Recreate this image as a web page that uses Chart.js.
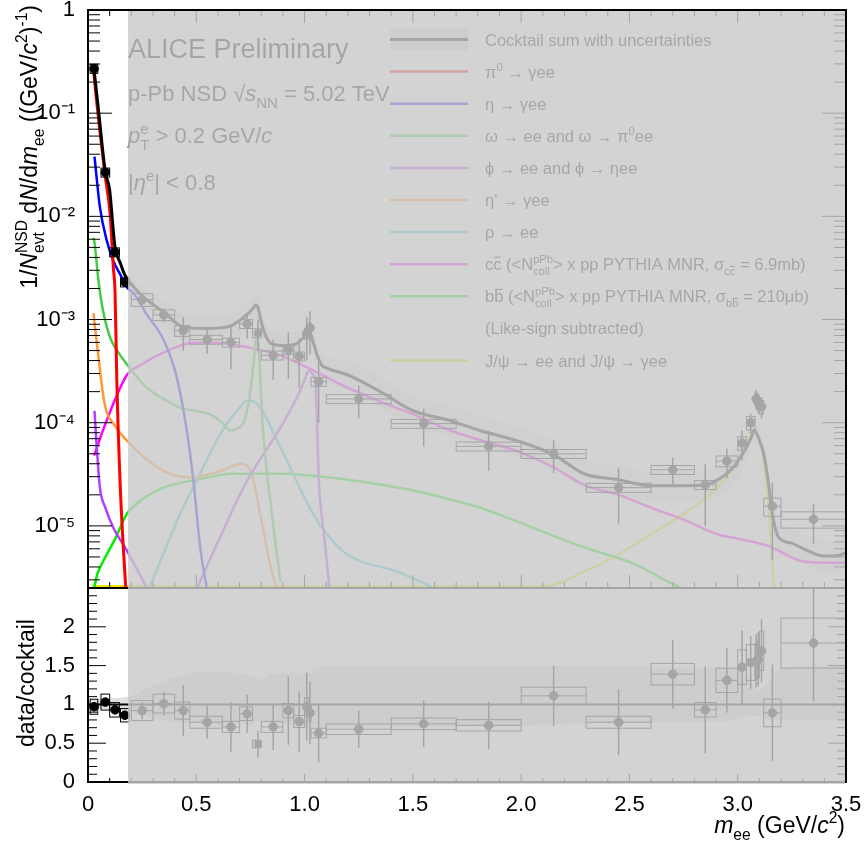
<!DOCTYPE html>
<html>
<head>
<meta charset="utf-8">
<script src="https://cdn.jsdelivr.net/npm/chart.js@4.4.1/dist/chart.umd.min.js"></script>
<style>
  html, body { margin: 0; padding: 0; background: #fff; }
</style>
</head>
<body>
<canvas id="c" width="865" height="841"></canvas>
<script>
// dielectron spectrum p-Pb, data vs cocktail (top) and data/cocktail (bottom)

// --- data points ---
const massX  = [0.028,0.08,0.125,0.17, 0.25,0.35,0.44,0.55,0.66,0.735,0.785,0.855,0.925,0.975, 1.01,1.025,1.065, 1.25,1.55,1.85,2.15,2.45, 2.7,2.85,2.95, 3.02,3.06,3.085,3.095,3.11, 3.16,3.35];
const binLo  = [0.01,0.06,0.10,0.15, 0.20,0.30,0.40,0.47,0.62,0.70,0.76,0.80,0.90,0.95, 1.00,1.02,1.03, 1.10,1.40,1.70,2.00,2.30, 2.60,2.80,2.90, 3.00,3.04,3.08,3.09,3.10, 3.12,3.20];
const binHi  = [0.045,0.10,0.145,0.19, 0.30,0.40,0.47,0.62,0.70,0.76,0.80,0.90,0.95,1.00, 1.02,1.03,1.10, 1.40,1.70,2.00,2.30,2.60, 2.80,2.90,3.00, 3.04,3.08,3.09,3.10,3.12, 3.20,3.50];
const dataY  = [0.27,0.0267,0.0045,0.0023, 1.56e-3,1.11e-3,7.8e-4,6.4e-4,6.0e-4,9.1e-4,7.4e-4,4.5e-4,5.1e-4,4.4e-4, 7.3e-4,8.3e-4,2.5e-4, 1.7e-4,9.8e-5,5.9e-5,5.0e-5,2.35e-5, 3.5e-5,2.5e-5,4.25e-5, 6.35e-5,1.0e-4,1.7e-4,1.58e-4,1.43e-4, 1.55e-5,1.16e-5];
const ratioY = [0.97,1.03,0.93,0.86, 0.92,1.01,0.92,0.77,0.71,0.88,0.49,0.71,0.92,0.78, 0.97,0.89,0.63, 0.68,0.75,0.73,1.11,0.77, 1.39,0.93,1.31, 1.48,1.54,1.56,1.58,1.69, 0.89,1.79];
const statRel = [0.05,0.05,0.05,0.05, 0.12,0.15,0.36,0.27,0.45,0.28,0.35,0.42,0.48,0.5, 0.45,0.45,0.6, 0.35,0.4,0.42,0.35,0.55, 0.32,0.6,0.32, 0.32,0.22,0.22,0.22,0.24, 0.7,0.42];
const sysRel  = [0.1,0.1,0.1,0.1, 0.14,0.12,0.12,0.1,0.1,0.1,0.1,0.1,0.1,0.1, 0.12,0.12,0.1, 0.1,0.1,0.1,0.1,0.1, 0.1,0.1,0.12, 0.15,0.15,0.15,0.15,0.15, 0.2,0.18];
const squarePoint = 10;   // omega bin is drawn with a square marker

// --- cocktail sum ---
const sumX = [0.025,0.03,0.05,0.08,0.1,0.117,0.125,0.15,0.17,0.2,0.25,0.3,0.35,0.425,0.47,0.55,0.61,0.66,0.7,0.73,0.75,0.765,0.775,0.785,0.8,0.82,0.85,0.9,0.95,0.99,1.01,1.02,1.04,1.06,1.08,1.1,1.2,1.35,1.5,1.67,1.81,1.98,2.15,2.29,2.45,2.6,2.75,2.85,2.93,2.98,3.03,3.06,3.076,3.1,3.12,3.14,3.16,3.19,3.25,3.29,3.4,3.47,3.5];
const sumY = [0.29,0.24,0.1,0.027,0.018,0.0072,0.005,0.0035,0.0027,0.0022,0.0017,0.0014,0.00118,0.00087,0.00083,0.00082,0.00083,0.00087,0.00098,0.0011,0.0012,0.0013,0.00138,0.0013,0.00095,0.0007,0.00058,0.00056,0.00057,0.00065,0.00075,0.00078,0.0006,0.00044,0.00036,0.00034,0.00029,0.0002,0.000131,0.000105,8.4e-5,6.7e-5,4.9e-5,3.2e-5,2.8e-5,2.45e-5,2.45e-5,2.5e-5,3.0e-5,3.7e-5,5.3e-5,7.0e-5,8.4e-5,6.8e-5,5e-5,2.8e-5,1.3e-5,7.7e-6,6.8e-6,6.2e-6,5.1e-6,5.2e-6,5.5e-6];
const sumUp = [0.06,0.06,0.07,0.08,0.08,0.09,0.09,0.1,0.1, 0.12,0.18,0.24,0.28,
  0.32,0.32,0.32,0.32,0.32,0.32,0.32,0.32,0.32,0.32,0.32,0.32,0.32,0.32,0.32,0.32,0.32,0.32,0.32,0.32,0.32,0.32,0.32,
  0.38,0.38,0.38,0.38,0.38,0.38,0.38,0.38,0.38,0.38,0.38,0.38,0.38,0.38,0.38,
  0.25,0.25,0.25,0.25,0.25, 0.38,0.38,0.38,0.38,0.38,0.38,0.38];
const sumDn = [0.06,0.06,0.07,0.08,0.08,0.09,0.09,0.1,0.1, 0.1,0.15,0.2,0.24,
  0.28,0.28,0.28,0.28,0.28,0.28,0.28,0.28,0.28,0.28,0.28,0.28,0.28,0.28,0.28,0.28,0.28,0.28,0.28,0.28,0.28,0.28,0.28,
  0.3,0.3,0.3,0.3,0.3,0.3,0.3,0.3,0.3,0.3,0.3,0.3,0.3,0.3,0.3,
  0.2,0.2,0.2,0.2,0.2, 0.3,0.3,0.3,0.3,0.3,0.3,0.3];

// --- cocktail components ---
const piX   = [0.025,0.03,0.056,0.08,0.102,0.117,0.125,0.133,0.148,0.163,0.176];
const piY   = [0.28,0.21,0.064,0.024,0.0107,0.0032,0.0018,2.6e-4,2.7e-5,6.2e-6,2.2e-6];
const etaX  = [0.03,0.055,0.086,0.117,0.15,0.18,0.21,0.27,0.35,0.41,0.456,0.487,0.518,0.55];
const etaY  = [0.038,0.0123,0.0059,0.0037,0.0027,0.00205,0.0018,0.00113,0.00063,0.000275,8.4e-5,2.7e-5,6.2e-6,2.4e-6];
const omgX  = [0.025,0.03,0.048,0.07,0.102,0.14,0.179,0.27,0.35,0.425,0.5,0.564,0.62,0.656,0.69,0.718,0.74,0.756,0.77,0.78,0.79,0.803,0.825,0.849,0.888];
const omgY  = [6.2e-3,5.6e-3,2.4e-3,1.2e-3,6.7e-4,4.8e-4,3.7e-4,2.2e-4,1.7e-4,1.4e-4,1.3e-4,1.2e-4,1.0e-4,8.4e-5,8.8e-5,1.0e-4,1.5e-4,2.6e-4,5e-4,7e-4,5e-4,1.2e-4,3.5e-5,1.3e-5,2.9e-6];
const phiX  = [0.03,0.04,0.055,0.08,0.117,0.179,0.22,0.27,0.38,0.518,0.6,0.733,0.888,0.965,1.0,1.011,1.02,1.035,1.05,1.066,1.08,1.096,1.115];
const phiY  = [1.3e-4,6e-5,2.35e-5,1.5e-5,9.6e-6,5.8e-6,4e-6,2.5e-6,6e-7,2.9e-6,7e-6,2.7e-5,8.9e-5,1.76e-4,2.6e-4,3e-4,3.2e-4,3e-4,2.5e-4,2.7e-5,1.2e-5,6.2e-6,2.4e-6];
const etapX = [0.025,0.045,0.075,0.13,0.18,0.25,0.35,0.47,0.61,0.71,0.756,0.795,0.84,0.875];
const etapY = [1.15e-3,5e-4,1.6e-4,9e-5,6.7e-5,4.8e-5,3.4e-5,2.95e-5,3.4e-5,4e-5,3.2e-5,1.3e-5,4.3e-6,2.3e-6];
const rhoX  = [0.28,0.35,0.425,0.5,0.61,0.7,0.741,0.795,0.888,1.04,1.1,1.196,1.427,1.62];
const rhoY  = [2.4e-6,5.5e-6,1.3e-5,2.7e-5,7.7e-5,1.4e-4,1.66e-4,1.4e-4,5.8e-5,1.3e-5,8.5e-6,5.3e-6,3.6e-6,2.4e-6];
const ccX   = [0.028,0.05,0.074,0.136,0.18,0.25,0.35,0.47,0.58,0.733,0.888,1.042,1.196,1.35,1.504,1.674,1.81,1.982,2.15,2.29,2.45,2.6,2.75,2.906,3.0,3.14,3.29,3.4,3.5];
const ccY   = [4.8e-5,6.5e-5,9e-5,1.9e-4,2.9e-4,3.7e-4,4.8e-4,5.9e-4,6e-4,5.4e-4,4.5e-4,3.2e-4,2.2e-4,1.6e-4,1.2e-4,8.4e-5,6.8e-5,5.3e-5,3.7e-5,2.5e-5,2e-5,1.5e-5,1.15e-5,8.3e-6,7.5e-6,6.4e-6,4.6e-6,4.4e-6,4.4e-6];
const bbX   = [0.025,0.043,0.074,0.128,0.179,0.25,0.35,0.5,0.67,0.888,1.196,1.504,1.674,1.812,1.982,2.29,2.52,2.675,2.8];
const bbY   = [2.3e-6,3.4e-6,4.7e-6,7.7e-6,1.3e-5,1.8e-5,2.35e-5,2.8e-5,3.2e-5,3.2e-5,2.8e-5,2.2e-5,1.8e-5,1.5e-5,1.1e-5,6.2e-6,4.3e-6,2.9e-6,2.2e-6];
const jpsiX = [0.02,2.105,2.29,2.45,2.6,2.75,2.906,3.0,3.045,3.076,3.095,3.115,3.145,3.16,3.17];
const jpsiY = [2.6e-6,2.6e-6,3.6e-6,5.3e-6,8.3e-6,1.3e-5,2.35e-5,4.3e-5,6.6e-5,8.2e-5,7e-5,5e-5,1.3e-5,4.3e-6,2.3e-6];

// --- ratio panel band ---
const rbX  = [0.0,0.1,0.185,0.3,0.4,0.5,0.6,0.7,0.76,0.8,0.85,0.95,1.05,1.1,1.5,2.0,2.5,2.9,3.0,3.05,3.1,3.15,3.2,3.5];
const rbHi = [1.06,1.08,1.1,1.25,1.35,1.42,1.42,1.4,1.37,1.32,1.4,1.4,1.45,1.5,1.5,1.5,1.49,1.47,1.45,1.3,1.18,1.3,1.48,1.5];
const rbLo = [0.95,0.93,0.9,0.82,0.77,0.75,0.74,0.74,0.75,0.78,0.75,0.73,0.72,0.71,0.71,0.73,0.76,0.78,0.8,0.85,0.85,0.8,0.8,0.81];

// axes
const logTicks   = [1e-5,1e-4,1e-3,1e-2,1e-1,1];
const ratioTicks = [0,0.5,1,1.5,2];
const revealedTo = 0.185;   // everything right of this is greyed out

const FONT = '"Liberation Sans", Arial, Helvetica, sans-serif';
const BAND = 'rgba(100,100,100,0.2)';
const BAND_TOP = 'rgba(100,100,100,0.12)';

const pts = (xs, ys) => xs.map((x, i) => ({x, y: ys[i]}));
const SUP = {'-':'⁻','0':'⁰','1':'¹','2':'²','3':'³','4':'⁴','5':'⁵','6':'⁶','7':'⁷','8':'⁸','9':'⁹'};
const toSup = n => String(n).split('').map(c => SUP[c]).join('');

function curve(label, xs, ys, color, w) {
  return { label, data: pts(xs, ys), yAxisID: 'y', showLine: true, borderColor: color,
           borderWidth: w || 2.5, pointRadius: 0, fill: false, cubicInterpolationMode: 'monotone' };
}

function markers(label, ys, axis) {
  return { label, data: pts(massX, ys), yAxisID: axis, showLine: false,
           pointRadius: 4.3, pointStyle: c => c.dataIndex === squarePoint ? 'rect' : 'circle',
           backgroundColor: '#000', borderColor: '#000', borderWidth: 1 };
}

function band(xs, ys, axis, fill) {
  return { data: pts(xs, ys), yAxisID: axis, showLine: true, borderWidth: 0, pointRadius: 0, fill,
           backgroundColor: axis === 'y' ? BAND_TOP : BAND, cubicInterpolationMode: 'monotone' };
}

// legend rows: colour + rich label
const legendRows = [
  { color: '#000', band: true, parts: [{t:'Cocktail sum with uncertainties'}] },
  { color: '#ff0000', parts: [{t:'π'},{t:'0',sup:true},{t:' → γee'}] },
  { color: '#0000ff', parts: [{t:'η → γee'}] },
  { color: '#44cc44', parts: [{t:'ω → ee and ω → π'},{t:'0',sup:true},{t:'ee'}] },
  { color: '#b040ff', parts: [{t:'ϕ → ee and ϕ → ηee'}] },
  { color: '#ff9933', parts: [{t:"η' → γee"}] },
  { color: '#33ccdd', parts: [{t:'ρ → ee'}] },
  { color: '#ff00ff', parts: [{t:'c'},{t:'c',ov:true},{t:' (<N'},{hi:'pPb',lo:'coll'},{t:'> x pp PYTHIA MNR, σ'},{t:'c',sub:true},{t:'c',sub:true,ov:true},{t:' = 6.9mb)'}] },
  { color: '#00ee00', parts: [{t:'b'},{t:'b',ov:true},{t:' (<N'},{hi:'pPb',lo:'coll'},{t:'> x pp PYTHIA MNR, σ'},{t:'b',sub:true},{t:'b',sub:true,ov:true},{t:' = 210μb)'}] },
  { color: null, parts: [{t:'(Like-sign subtracted)'}] },
  { color: '#e8e800', parts: [{t:'J/ψ → ee and J/ψ → γee'}] },
];

function fontStr(size, it) { return (it ? 'italic ' : '') + size + 'px ' + FONT; }

// tiny rich-text helper: sub/superscripts, stacked indices, overlines
function richText(ctx, x, y, parts, size, align) {
  const small = size * 0.68;
  const items = parts.map(p => {
    if (p.hi !== undefined) {
      ctx.font = fontStr(small);
      return {p, w: Math.max(ctx.measureText(p.hi).width, ctx.measureText(p.lo).width)};
    }
    ctx.font = fontStr(p.sub || p.sup ? small : size, p.it);
    return {p, w: ctx.measureText(p.t).width};
  });
  const total = items.reduce((a, b) => a + b.w, 0);
  let cx = align === 'right' ? x - total : align === 'center' ? x - total / 2 : x;
  ctx.textAlign = 'left';
  ctx.textBaseline = 'alphabetic';
  items.forEach(({p, w}) => {
    if (p.hi !== undefined) {
      ctx.font = fontStr(small);
      ctx.fillText(p.hi, cx, y - size * 0.42);
      ctx.fillText(p.lo, cx, y + size * 0.3);
    } else {
      const fs = p.sub || p.sup ? small : size;
      const dy = p.sub ? size * 0.3 : p.sup ? -size * 0.42 : 0;
      ctx.font = fontStr(fs, p.it);
      ctx.fillText(p.t, cx, y + dy);
      if (p.ov) ctx.fillRect(cx + fs * 0.05, y + dy - fs * 0.82, w - fs * 0.1, Math.max(1, fs * 0.07));
    }
    cx += w;
  });
}

function line(ctx, x0, y0, x1, y1) {
  ctx.beginPath(); ctx.moveTo(x0, y0); ctx.lineTo(x1, y1); ctx.stroke();
}

function clipTo(chart, s) {
  const a = chart.chartArea, ctx = chart.ctx;
  ctx.save();
  ctx.beginPath();
  ctx.rect(a.left, s.top, a.right - a.left, s.bottom - s.top);
  ctx.clip();
}

function drawErrors(chart) {
  const ctx = chart.ctx, xs = chart.scales.x;
  [['y', dataY], ['yr', ratioY]].forEach(([id, vals]) => {
    const s = chart.scales[id];
    clipTo(chart, s);
    ctx.strokeStyle = '#000';
    massX.forEach((m, i) => {
      const v = vals[i];
      const cx = xs.getPixelForValue(m);
      const bx0 = xs.getPixelForValue(binLo[i]), bx1 = xs.getPixelForValue(binHi[i]);
      const by0 = s.getPixelForValue(v * (1 + sysRel[i])), by1 = s.getPixelForValue(v * (1 - sysRel[i]));
      ctx.lineWidth = 1;
      ctx.strokeRect(bx0, by0, bx1 - bx0, by1 - by0);
      const cy = s.getPixelForValue(v);
      line(ctx, bx0, cy, bx1, cy);
      const lo = v * (1 - statRel[i]);
      ctx.lineWidth = 1.5;
      line(ctx, cx, s.getPixelForValue(v * (1 + statRel[i])), cx, lo > 0 ? s.getPixelForValue(lo) : s.bottom);
    });
    ctx.restore();
  });
}

function drawFrame(chart) {
  const ctx = chart.ctx, a = chart.chartArea;
  const xs = chart.scales.x, ys = chart.scales.y, yr = chart.scales.yr;
  ctx.save();
  ctx.strokeStyle = '#000';
  ctx.lineWidth = 1;
  // x ticks, every 0.1
  for (let k = 0; k <= 35; k++) {
    const px = xs.getPixelForValue(k / 10), major = k % 5 === 0;
    const L = major ? 13 : 6;
    line(ctx, px, ys.top, px, ys.top + L);
    line(ctx, px, ys.bottom, px, ys.bottom - L);
    line(ctx, px, yr.bottom, px, yr.bottom - (major ? 8 : 4));
  }
  // log y ticks
  for (let e = -6; e <= 0; e++) {
    for (let m = 1; m <= 9; m++) {
      const v = m * Math.pow(10, e);
      if (v < ys.min || v > ys.max) continue;
      const py = ys.getPixelForValue(v), L = m === 1 ? 24 : 12;
      line(ctx, a.left, py, a.left + L, py);
      line(ctx, a.right, py, a.right - L, py);
    }
  }
  // ratio y ticks
  for (let k = 0; k <= 25; k++) {
    const py = yr.getPixelForValue(k / 10), L = k % 5 === 0 ? 18 : 9;
    line(ctx, a.left, py, a.left + L, py);
    line(ctx, a.right, py, a.right - L, py);
  }
  ctx.lineWidth = 2;
  ctx.strokeRect(a.left, ys.top, a.right - a.left, ys.bottom - ys.top);
  ctx.strokeRect(a.left, yr.top, a.right - a.left, yr.bottom - yr.top);
  ctx.restore();
}

function drawTexts(chart) {
  const ctx = chart.ctx;
  ctx.save();
  ctx.fillStyle = '#000';
  richText(ctx, 128, 58, [{t:'ALICE Preliminary'}], 27);
  richText(ctx, 128, 101, [{t:'p-Pb NSD '},{t:'√'},{t:'s',it:true},{t:'NN',sub:true},{t:' = 5.02 TeV'}], 22);
  richText(ctx, 128, 143, [{t:'p',it:true},{hi:'e',lo:'T'},{t:' > 0.2 GeV/'},{t:'c',it:true}], 22);
  richText(ctx, 128, 190, [{t:'|'},{t:'η',it:true},{t:'e',sup:true},{t:'| < 0.8'}], 22);

  // legend
  legendRows.forEach((r, i) => {
    const yc = 39.5 + i * 32.1;
    if (r.band) { ctx.fillStyle = BAND; ctx.fillRect(390, yc - 11, 78, 22); }
    if (r.color) {
      ctx.strokeStyle = r.color;
      ctx.lineWidth = r.band ? 3 : 2.5;
      line(ctx, 390, yc, 468, yc);
    }
    ctx.fillStyle = '#000';
    richText(ctx, 485, yc + 6, r.parts, 16.5);
  });

  // axis titles
  ctx.save();
  ctx.translate(37, 5);
  ctx.rotate(-Math.PI / 2);
  richText(ctx, 0, 0, [{t:'1/'},{t:'N',it:true},{hi:'NSD',lo:'evt'},{t:' d'},{t:'N',it:true},{t:'/d'},{t:'m',it:true},{t:'ee',sub:true},
    {t:' ((GeV/'},{t:'c',it:true},{t:'2',sup:true},{t:')'},{t:'-1',sup:true},{t:')'}], 23, 'right');
  ctx.restore();
  ctx.save();
  ctx.translate(34, 683);
  ctx.rotate(-Math.PI / 2);
  richText(ctx, 0, 0, [{t:'data/cocktail'}], 23, 'center');
  ctx.restore();
  richText(ctx, 845, 833, [{t:'m',it:true},{t:'ee',sub:true},{t:' (GeV/'},{t:'c',it:true},{t:'2',sup:true},{t:')'}], 23, 'right');
  ctx.restore();
}

function drawOverlay(chart) {
  const ctx = chart.ctx, a = chart.chartArea, xs = chart.scales.x;
  const x0 = xs.getPixelForValue(revealedTo);
  ctx.save();
  ctx.fillStyle = 'rgba(201,201,201,0.82)';
  ctx.fillRect(x0, a.top + 1, a.right - 1 - x0, a.bottom + 2 - a.top - 1);
  ctx.restore();
}

const rootStyle = {
  id: 'rootStyle',
  beforeDatasetDraw(chart, args) { clipTo(chart, chart.scales[args.meta.yAxisID]); },
  afterDatasetDraw(chart) { chart.ctx.restore(); },
  afterDatasetsDraw(chart) { drawErrors(chart); },
  afterDraw(chart) { drawFrame(chart); drawTexts(chart); drawOverlay(chart); }
};

const yFit = s => { s.width = 88; s.paddingTop = 0; s.paddingBottom = 0; };
const tickFont = { family: FONT, size: 22 };

new Chart(document.getElementById('c'), {
  type: 'scatter',
  data: {
    datasets: [
      markers('data', dataY, 'y'),
      markers('data/cocktail', ratioY, 'yr'),
      curve('Cocktail sum', sumX, sumY, '#000', 3),
      { label: 'unity', data: pts([0, 3.5], [1, 1]), yAxisID: 'yr', showLine: true, borderColor: '#000', borderWidth: 2, pointRadius: 0 },
      curve('pi0', piX, piY, '#ff0000', 3),
      curve('eta', etaX, etaY, '#0000ff'),
      curve('omega', omgX, omgY, '#44cc44'),
      curve('phi', phiX, phiY, '#b040ff'),
      curve("eta'", etapX, etapY, '#ff9933'),
      curve('rho', rhoX, rhoY, '#33ccdd'),
      curve('ccbar', ccX, ccY, '#ff00ff'),
      curve('bbbar', bbX, bbY, '#00ee00'),
      curve('J/psi', jpsiX, jpsiY, '#e8e800'),
      band(sumX, sumY.map((v, i) => v * (1 + sumUp[i])), 'y', '+1'),
      band(sumX, sumY.map((v, i) => v * (1 - sumDn[i])), 'y', false),
      band(rbX, rbHi, 'yr', '+1'),
      band(rbX, rbLo, 'yr', false),
    ]
  },
  options: {
    responsive: false,
    animation: false,
    events: [],
    layout: { padding: { top: 10, right: 19, left: 0, bottom: 0 } },
    plugins: { legend: { display: false }, tooltip: { enabled: false } },
    scales: {
      x: {
        type: 'linear', min: 0, max: 3.5,
        grid: { display: false }, border: { display: false },
        ticks: { stepSize: 0.5, color: '#000', font: tickFont, padding: 2, maxRotation: 0 },
        afterFit: s => { s.height = 59; s.paddingLeft = 0; s.paddingRight = 0; }
      },
      yr: {
        type: 'linear', position: 'left', stack: 'panels', stackWeight: 194,
        min: 0, max: 2.5,
        grid: { display: false }, border: { display: false },
        ticks: { color: '#000', font: tickFont, padding: 5, autoSkip: false, callback: v => String(v) },
        afterBuildTicks: s => { s.ticks = ratioTicks.map(v => ({ value: v })); },
        afterFit: yFit
      },
      y: {
        type: 'logarithmic', position: 'left', stack: 'panels', stackWeight: 578,
        min: 2.5e-6, max: 1, bounds: 'data',
        grid: { display: false }, border: { display: false },
        ticks: { color: '#000', font: tickFont, padding: 5, autoSkip: false,
                 callback: v => v === 1 ? '1' : '10' + toSup(Math.round(Math.log10(v))) },
        afterBuildTicks: s => { s.ticks = logTicks.map(v => ({ value: v })); },
        afterFit: yFit
      }
    }
  },
  plugins: [rootStyle]
});
</script>
</body>
</html>
